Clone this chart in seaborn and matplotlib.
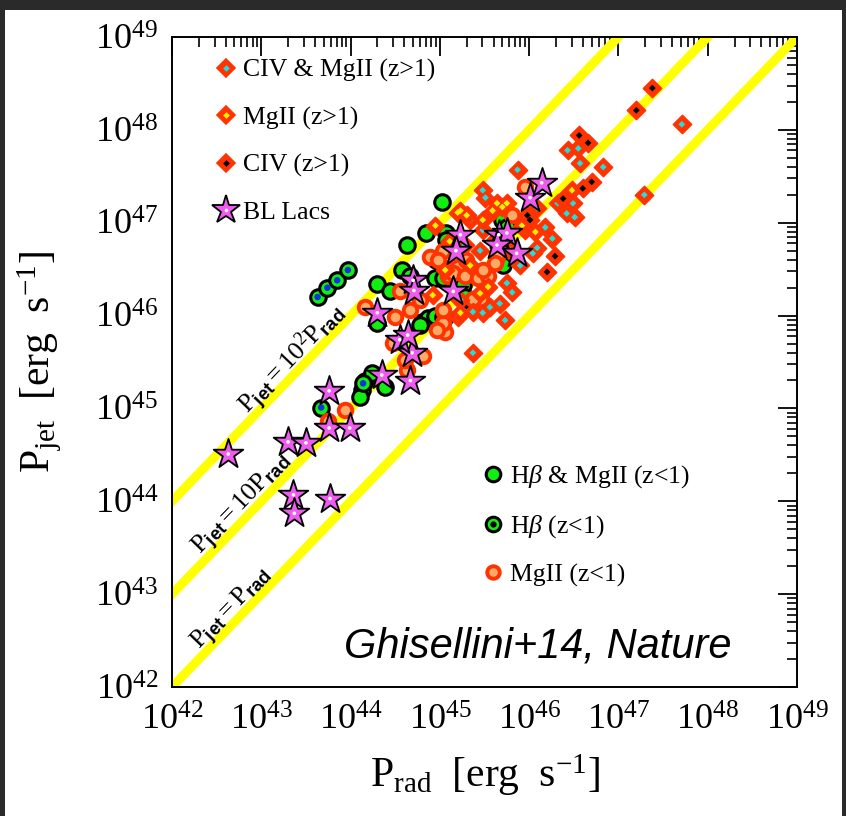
import numpy as np
import pandas as pd
import matplotlib
matplotlib.use("Agg")
import matplotlib.pyplot as plt
import seaborn as sns
from matplotlib.lines import Line2D
from matplotlib.patches import Rectangle
from matplotlib.ticker import LogLocator, NullFormatter, FixedLocator

# ---------------- data: log10 of powers [erg/s] ----------------
civ_mgii_logprad = [45.87, 46.43, 46.55, 46.57, 46.83, 45.48, 45.51, 46.32, 46.49, 46.51,
                    46.42, 46.09, 46.18, 46.26, 46.09, 45.45, 45.75, 45.81, 45.67, 45.56,
                    45.48, 45.37, 45.20, 45.37, 46.04, 45.48, 45.34, 47.71, 47.29, 45.62,
                    45.23, 45.90, 45.28, 45.73, 45.95]
civ_mgii_logpjet = [47.57, 47.78, 47.80, 47.64, 47.60, 47.35, 47.27, 47.21, 47.21, 47.06,
                    47.10, 47.16, 46.95, 46.83, 46.73, 46.70, 46.35, 46.25, 46.13, 46.09,
                    46.03, 46.04, 45.98, 45.60, 46.67, 46.92, 47.03, 48.06, 47.30, 46.81,
                    46.17, 46.54, 46.76, 45.95, 46.92]

mgii_hiz_logprad = [45.23, 45.30, 45.64, 45.75, 45.70, 45.48, 45.59, 46.48, 46.07, 45.92,
                    45.45, 45.54, 44.95, 44.92, 45.20, 45.23, 45.34, 45.11, 45.79, 45.06]
mgii_hiz_logpjet = [47.13, 47.08, 47.21, 47.21, 47.17, 47.03, 47.13, 47.35, 46.90, 46.97,
                    46.24, 46.31, 46.97, 46.22, 47.11, 46.03, 46.54, 46.80, 46.70, 46.49]

civ_logprad = [47.38, 47.20, 46.56, 46.66, 46.70, 46.60, 46.38, 45.98, 46.01, 46.29, 46.20]
civ_logpjet = [48.45, 48.21, 47.94, 47.86, 47.44, 47.37, 47.26, 47.08, 47.03, 46.64, 46.47]

hb_mgii_logprad = [45.02, 44.84, 44.63, 45.07, 45.07, 44.58, 44.30, 44.67, 44.95, 44.80,
                   44.87, 44.95, 45.03, 45.28, 44.30, 44.16, 44.24, 44.13, 44.39, 44.11,
                   45.70, 45.75, 45.71, 45.03, 45.26, 45.28, 45.06, 44.78, 44.96, 44.44]
hb_mgii_logpjet = [47.22, 46.89, 46.76, 46.89, 46.81, 46.49, 46.34, 46.43, 46.40, 45.93,
                   45.97, 46.00, 45.98, 46.17, 45.92, 45.30, 45.38, 45.20, 45.23, 45.12,
                   47.03, 46.95, 46.54, 46.41, 46.33, 46.20, 45.98, 45.90, 46.60, 46.27]

hb_logprad = [43.63, 43.74, 43.85, 43.97, 43.67, 44.14]
hb_logpjet = [46.20, 46.30, 46.38, 46.49, 45.01, 45.27]

mgii_loz_logprad = [43.94, 43.75, 44.16, 44.50, 44.63, 44.81, 45.06, 44.67, 44.55, 45.03,
                    44.89, 45.08, 45.20, 45.09, 45.03, 44.47, 45.29, 45.15, 45.28, 45.43,
                    45.54, 45.48, 45.95, 45.81, 45.03, 45.46, 45.37, 45.81, 44.98, 45.64,
                    45.62, 44.97, 44.78, 44.61]
mgii_loz_logpjet = [44.98, 44.86, 46.09, 45.98, 45.41, 45.56, 45.82, 46.06, 46.27, 46.70,
                    46.63, 46.51, 46.52, 46.43, 45.92, 45.70, 46.60, 46.46, 46.43, 46.41,
                    46.43, 46.49, 47.38, 47.08, 46.06, 46.18, 46.18, 46.73, 46.60, 46.63,
                    46.57, 45.84, 46.17, 45.52]

bllac_logprad = [42.63, 43.76, 43.30, 43.50, 43.76, 43.99, 43.36, 43.37, 43.77, 44.67,
                 44.35, 44.69, 44.55, 44.64, 44.30, 44.70, 44.71, 45.15, 45.23, 45.18,
                 45.66, 45.75, 45.64, 45.86, 46.01, 46.14]
bllac_logpjet = [44.51, 45.19, 44.64, 44.63, 44.79, 44.79, 44.07, 43.87, 44.03, 45.30,
                 45.36, 45.60, 45.74, 45.79, 46.03, 46.38, 46.27, 46.26, 46.87, 46.70,
                 46.87, 46.89, 46.76, 46.67, 47.27, 47.43]

ratio_values = [1, 10, 100]
ratio_labels = [r"$\mathrm{P}_{\mathsf{jet}}=\mathrm{P}_{\mathsf{rad}}$",
                r"$\mathrm{P}_{\mathsf{jet}}=10\mathrm{P}_{\mathsf{rad}}$",
                r"$\mathrm{P}_{\mathsf{jet}}=10^{2}\mathrm{P}_{\mathsf{rad}}$"]
ratio_label_logx = [42.76, 42.88, 43.44]

decades = list(range(42, 50))

# ---------------- styling ----------------
sns.set_theme(style="white")
plt.rcParams["font.family"] = ["Liberation Serif", "DejaVu Serif"]
plt.rcParams["mathtext.fontset"] = "custom"
plt.rcParams["mathtext.rm"] = "Liberation Serif"
plt.rcParams["mathtext.it"] = "Liberation Serif:italic"
plt.rcParams["mathtext.bf"] = "Liberation Serif:bold"
plt.rcParams["mathtext.sf"] = "Liberation Sans:bold"

RED = "#ff3300"
GREEN = "#11ee11"
CYAN = "#22dddd"
YEL = "#ffee00"
ORANGE_FILL = "#ffaa66"
STAR = "#ee5cee"
BLUE = "#1133dd"

W, H = 846, 816
fig = plt.figure(figsize=(W / 100, H / 100), dpi=100, facecolor="#2a2a2a")
fig.patches.append(Rectangle((5 / W, 0), (842 - 5) / W, (H - 10) / H,
                             transform=fig.transFigure, facecolor="white",
                             edgecolor="none", zorder=-10))
ax = fig.add_axes([172 / W, (H - 687) / H, 625 / W, 650 / H])
ax.set_facecolor("white")


def frame(lx, ly):
    return pd.DataFrame({"P_rad": 10.0 ** np.asarray(lx, float),
                         "P_jet": 10.0 ** np.asarray(ly, float)})


ax.set_xscale("log")
ax.set_yscale("log")
lo, hi = 10.0 ** decades[0], 10.0 ** decades[-1]
ax.set_xlim(lo, hi)
ax.set_ylim(lo, hi)

# yellow ratio lines
xs = np.logspace(decades[0] - 3, decades[-1], 50)
for r in ratio_values:
    sns.lineplot(x=xs, y=r * xs, color="#ffff00", lw=6.5, ax=ax, zorder=1,
                 estimator=None, sort=False)

# line labels
bb = ax.get_window_extent()
theta = np.arctan2(bb.height / 7, bb.width / 7)
d = 4
for r, lab, lx in zip(ratio_values, ratio_labels, ratio_label_logx):
    x0 = 10.0 ** lx
    ax.annotate(lab, xy=(x0, r * x0), xytext=(-np.sin(theta) * d, np.cos(theta) * d),
                textcoords="offset points", rotation=np.degrees(theta),
                rotation_mode="anchor", ha="center", va="baseline",
                fontsize=19, color="black", zorder=6)

# z<1 groups
S_C = 125
sns.scatterplot(data=frame(hb_mgii_logprad, hb_mgii_logpjet), x="P_rad", y="P_jet",
                marker="o", s=S_C, color=GREEN, edgecolor="black", linewidth=2.2,
                ax=ax, zorder=3, legend=False)
sns.scatterplot(data=frame(hb_logprad, hb_logpjet), x="P_rad", y="P_jet",
                marker="o", s=S_C, color=GREEN, edgecolor="black", linewidth=2.2,
                ax=ax, zorder=3, legend=False)
sns.scatterplot(data=frame(hb_logprad, hb_logpjet), x="P_rad", y="P_jet",
                marker="o", s=22, color=BLUE, edgecolor="none", linewidth=0,
                ax=ax, zorder=3.1, legend=False)
sns.scatterplot(data=frame(mgii_loz_logprad, mgii_loz_logpjet), x="P_rad", y="P_jet",
                marker="o", s=95, color=ORANGE_FILL, edgecolor=RED, linewidth=2.8,
                ax=ax, zorder=3.2, legend=False)

# z>1 diamonds
S_D, S_IN = 85, 12
for lx, ly, inner, z in [(civ_mgii_logprad, civ_mgii_logpjet, CYAN, 4.0),
                         (mgii_hiz_logprad, mgii_hiz_logpjet, YEL, 4.2),
                         (civ_logprad, civ_logpjet, "black", 4.4)]:
    df = frame(lx, ly)
    sns.scatterplot(data=df, x="P_rad", y="P_jet", marker="D", s=S_D, color=RED,
                    edgecolor=RED, linewidth=1.2, ax=ax, zorder=z, legend=False)
    sns.scatterplot(data=df, x="P_rad", y="P_jet", marker="D", s=S_IN, color=inner,
                    edgecolor="none", linewidth=0, ax=ax, zorder=z + 0.1, legend=False)

# BL Lacs
dfb = frame(bllac_logprad, bllac_logpjet)
sns.scatterplot(data=dfb, x="P_rad", y="P_jet", marker="*", s=500, color=STAR,
                edgecolor="black", linewidth=1.3, ax=ax, zorder=5, legend=False)
sns.scatterplot(data=dfb, x="P_rad", y="P_jet", marker="o", s=7, color="white",
                edgecolor="none", linewidth=0, ax=ax, zorder=5.1, legend=False)

# axes, ticks
ax.xaxis.set_major_locator(FixedLocator([10.0 ** k for k in decades]))
ax.yaxis.set_major_locator(FixedLocator([10.0 ** k for k in decades]))
ax.xaxis.set_minor_locator(LogLocator(base=10, subs=np.arange(2, 10), numticks=200))
ax.yaxis.set_minor_locator(LogLocator(base=10, subs=np.arange(2, 10), numticks=200))
ax.xaxis.set_minor_formatter(NullFormatter())
ax.yaxis.set_minor_formatter(NullFormatter())
ax.set_xticklabels([rf"$10^{{{k}}}$" for k in decades])
ax.set_yticklabels([rf"$10^{{{k}}}$" for k in decades])
ax.tick_params(which="both", direction="in", top=True, right=True, colors="black")
ax.tick_params(which="major", length=14, width=1.3, labelsize=26)
ax.tick_params(axis="x", which="major", pad=13)
ax.tick_params(axis="y", which="major", pad=10)
ax.tick_params(which="minor", length=7, width=1.2)
for sp in ax.spines.values():
    sp.set_color("black")
    sp.set_linewidth(1.4)
    sp.set_visible(True)

ax.set_xlabel(r"$\mathrm{P_{rad}\ \ [erg\ \ s^{-1}]}$", fontsize=30, labelpad=10,
              color="black")
ax.set_ylabel(r"$\mathrm{P_{jet}\ \ [erg\ \ s^{-1}]}$", fontsize=30, labelpad=22,
              color="black")

# legends
ms_d, ms_in = 8.8, 3.4
h_civmg = (Line2D([], [], ls="none", marker="D", ms=ms_d, mfc=RED, mec=RED, mew=1.2),
           Line2D([], [], ls="none", marker="D", ms=ms_in, mfc=CYAN, mec="none"))
h_mg = (Line2D([], [], ls="none", marker="D", ms=ms_d, mfc=RED, mec=RED, mew=1.2),
        Line2D([], [], ls="none", marker="D", ms=ms_in, mfc=YEL, mec="none"))
h_civ = (Line2D([], [], ls="none", marker="D", ms=ms_d, mfc=RED, mec=RED, mew=1.2),
         Line2D([], [], ls="none", marker="D", ms=ms_in, mfc="black", mec="none"))
h_bl = (Line2D([], [], ls="none", marker="*", ms=21, mfc=STAR, mec="black", mew=1.3),
        Line2D([], [], ls="none", marker="o", ms=2.6, mfc="white", mec="none"))
leg1 = ax.legend([h_civmg, h_mg, h_civ, h_bl],
                 ["CIV & MgII (z>1)", "MgII (z>1)", "CIV (z>1)", "BL Lacs"],
                 loc="upper left", bbox_to_anchor=(0.05, 0.982), frameon=False,
                 fontsize=18.5, handlelength=1.0, handletextpad=0.15, labelspacing=0.93,
                 borderaxespad=0)
for t in leg1.get_texts():
    t.set_color("black")
ax.add_artist(leg1)

h_hbmg = Line2D([], [], ls="none", marker="o", ms=10.5, mfc=GREEN, mec="black", mew=2.2)
h_hb = (Line2D([], [], ls="none", marker="o", ms=10.5, mfc=GREEN, mec="black", mew=2.2),
        Line2D([], [], ls="none", marker="o", ms=4.5, mfc="black", mec="none"))
h_mglo = Line2D([], [], ls="none", marker="o", ms=9, mfc=ORANGE_FILL, mec=RED, mew=2.8)
leg2 = ax.legend([h_hbmg, h_hb, h_mglo],
                 [r"H$\beta$ & MgII (z<1)", r"H$\beta$ (z<1)", "MgII (z<1)"],
                 loc="upper left", bbox_to_anchor=(0.477, 0.36), frameon=False,
                 fontsize=18.5, handlelength=1.0, handletextpad=0.15, labelspacing=0.9,
                 borderaxespad=0)
for t in leg2.get_texts():
    t.set_color("black")

ax.text(0.586, 0.062, "Ghisellini+14, Nature", transform=ax.transAxes,
        ha="center", va="center", fontsize=30, style="italic",
        family=["Liberation Sans", "DejaVu Sans"], color="black", zorder=7)

fig.savefig("out.png", dpi=100, facecolor=fig.get_facecolor())
